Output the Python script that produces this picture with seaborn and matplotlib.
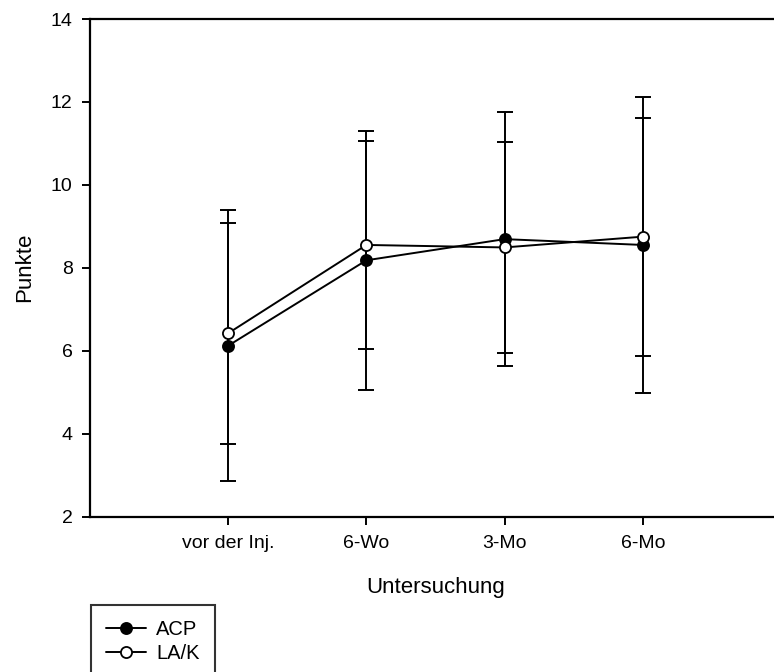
import numpy as np
import pandas as pd
import matplotlib
matplotlib.use("Agg")
import matplotlib.pyplot as plt
import seaborn as sns

# Daten
untersuchung = ["vor der Inj.", "6-Wo", "3-Mo", "6-Mo"]
acp_mittel = [6.12, 8.18, 8.69, 8.55]
acp_sd = [3.27, 3.12, 3.06, 3.58]
lak_mittel = [6.42, 8.55, 8.49, 8.75]
lak_sd = [2.67, 2.50, 2.55, 2.87]

df = pd.DataFrame({
    "Untersuchung": untersuchung * 2,
    "Gruppe": ["ACP"] * 4 + ["LA/K"] * 4,
    "Punkte": acp_mittel + lak_mittel,
    "SD": acp_sd + lak_sd,
})

sns.set_style("ticks")
plt.rcParams["font.family"] = ["Liberation Sans", "DejaVu Sans"]
plt.rcParams.update({"text.color": "black", "axes.labelcolor": "black",
                     "xtick.color": "black", "ytick.color": "black"})

fig = plt.figure(figsize=(7.74, 6.72), dpi=100)
ax = fig.add_axes([90 / 774, 155.5 / 672, 691 / 774, 497.5 / 672])

stil = {"ACP": "black", "LA/K": "white"}
for gruppe in ["ACP", "LA/K"]:
    sub = df[df["Gruppe"] == gruppe]
    pos = np.arange(len(sub))
    ax.errorbar(pos, sub["Punkte"], yerr=sub["SD"], fmt="none", ecolor="black",
                elinewidth=1.4, capsize=5.5, capthick=1.4, zorder=1)
    sns.lineplot(data=sub, x="Untersuchung", y="Punkte", ax=ax, color="black",
                 marker="o", markersize=8, markerfacecolor=stil[gruppe],
                 markeredgecolor="black", markeredgewidth=1.3, linewidth=1.4,
                 label=gruppe, sort=False, zorder=3)

ax.set_xlim(-1, 4)
ax.set_ylim(2, 14)
ax.set_yticks(range(2, 15, 2))
ax.set_xlabel("Untersuchung", fontsize=16, labelpad=18)
ax.set_ylabel("Punkte", fontsize=16, labelpad=11)
ax.tick_params(axis="both", labelsize=14, width=1.4, length=5.5, pad=7,
               color="black", labelcolor="black")
ax.tick_params(axis="x", pad=8)

for s in ax.spines.values():
    s.set_linewidth(1.6)
    s.set_color("black")

leg = ax.legend(loc="upper left", bbox_to_anchor=(90.7 / 774, 1 - 604.7 / 672),
                bbox_transform=fig.transFigure, fontsize=14.5, frameon=True,
                fancybox=False, borderaxespad=0, borderpad=0.75, handlelength=2.0,
                handletextpad=0.5, labelspacing=0.25)
leg.get_frame().set_edgecolor("black")
leg.get_frame().set_linewidth(1.5)

fig.savefig("out.png", dpi=100)
